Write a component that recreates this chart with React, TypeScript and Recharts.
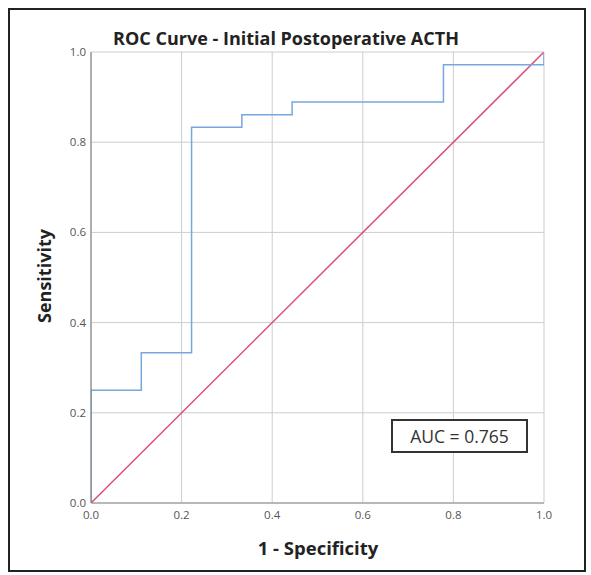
import { CartesianGrid, Line, LineChart, XAxis, YAxis } from "recharts";

// ROC points (1 - specificity, sensitivity)
const fpr = [0, 0, 0.111, 0.222, 0.333, 0.444, 0.778, 1.0];
const tpr = [0, 0.25, 0.333, 0.833, 0.861, 0.889, 0.972, 1.0];
const refX = [0, 1];
const refY = [0, 1];
const ticks = [0, 0.2, 0.4, 0.6, 0.8, 1.0];
const aucText = "AUC = 0.765";

const rocData = fpr.map((x, i) => ({ x, y: tpr[i] }));
const refData = refX.map((x, i) => ({ x, y: refY[i] }));

const font = "'Open Sans', 'DejaVu Sans', sans-serif";
const tickStyle = { fill: "#555", fontSize: 11.5, fontFamily: font };

export default function App() {
  return (
    <div style={{ position: "relative", width: 591, height: 575, background: "#fff" }}>
      <style>{`body{margin:0}`}</style>
      <LineChart
        width={591}
        height={575}
        margin={{ top: 52, right: 47, left: 61, bottom: 42 }}
      >
        <CartesianGrid stroke="#cdcdcd" />
        <XAxis
          type="number"
          dataKey="x"
          domain={[0, 1]}
          ticks={ticks}
          tickFormatter={(v: number) => v.toFixed(1)}
          tick={tickStyle}
          tickLine={false}
          tickSize={6}
          tickMargin={2}
          height={30}
          stroke="#8a8a8a"
          allowDataOverflow
        />
        <YAxis
          type="number"
          dataKey="y"
          domain={[0, 1]}
          ticks={ticks}
          tickFormatter={(v: number) => v.toFixed(1)}
          tick={tickStyle}
          tickLine={false}
          tickSize={3}
          tickMargin={2}
          width={30}
          stroke="#777"
          allowDataOverflow
        />
        <Line
          data={refData}
          dataKey="y"
          type="linear"
          stroke="#dc5078"
          strokeWidth={1.5}
          dot={false}
          isAnimationActive={false}
        />
        <Line
          data={rocData}
          dataKey="y"
          type="stepAfter"
          stroke="#78a6e0"
          strokeWidth={1.5}
          dot={false}
          isAnimationActive={false}
        />
      </LineChart>

      <div
        style={{
          position: "absolute",
          left: 0,
          width: 572,
          top: 26,
          textAlign: "center",
          fontFamily: font,
          fontWeight: 700,
          fontSize: 18,
          color: "#222",
        }}
      >
        ROC Curve - Initial Postoperative ACTH
      </div>

      <div
        style={{
          position: "absolute",
          left: 44,
          top: 276,
          transform: "translate(-50%, -50%) rotate(-90deg)",
          fontFamily: font,
          fontWeight: 700,
          fontSize: 18,
          color: "#222",
          whiteSpace: "nowrap",
        }}
      >
        Sensitivity
      </div>

      <div
        style={{
          position: "absolute",
          left: 318,
          top: 547,
          transform: "translate(-50%, -50%)",
          fontFamily: font,
          fontWeight: 700,
          fontSize: 18.5,
          color: "#222",
          whiteSpace: "nowrap",
        }}
      >
        1 - Specificity
      </div>

      <div
        style={{
          position: "absolute",
          left: 391,
          top: 419,
          width: 133,
          height: 30,
          border: "2px solid #333",
          background: "#fff",
          display: "flex",
          alignItems: "center",
          justifyContent: "center",
          fontFamily: font,
          fontSize: 17.5,
          color: "#333",
        }}
      >
        {aucText}
      </div>

      <div
        style={{
          position: "absolute",
          left: 8,
          top: 8,
          width: 574,
          height: 560,
          border: "2px solid #222",
          pointerEvents: "none",
        }}
      />
    </div>
  );
}
